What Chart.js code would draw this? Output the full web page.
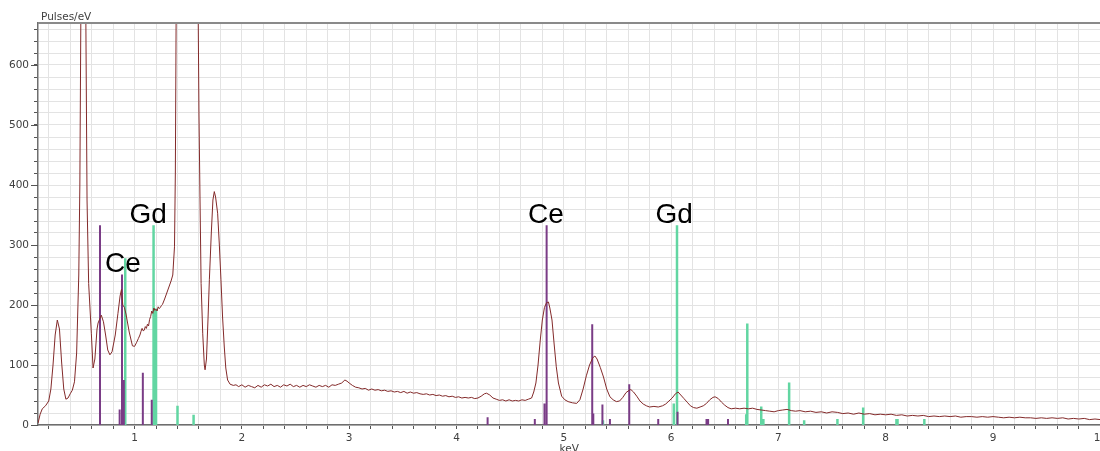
<!DOCTYPE html>
<html>
<head>
<meta charset="utf-8">
<title>EDS spectrum</title>
<script src="https://cdn.jsdelivr.net/npm/chart.js@4/dist/chart.umd.min.js"></script>
<style>
  html, body { margin: 0; padding: 0; background: #fff; overflow: hidden; }
  #wrap { width: 1110px; height: 451px; }
</style>
</head>
<body>
<div id="wrap"><canvas id="spectrum" width="1110" height="451"></canvas></div>
<script>
// measured spectrum, keV / pulses per eV
var energyKeV = [
  0.10, 0.12, 0.14, 0.17, 0.20, 0.22, 0.24, 0.26, 0.28, 0.30, 0.32, 0.34, 0.36, 0.38, 0.40, 0.42, 0.44, 0.46,
  0.48, 0.49, 0.50, 0.525, 0.545, 0.557, 0.572, 0.597, 0.613, 0.63, 0.65, 0.66, 0.69, 0.71, 0.73, 0.75, 0.77,
  0.79, 0.82, 0.845, 0.865, 0.878, 0.89, 0.905, 0.92, 0.95, 0.98, 1.00, 1.02, 1.035, 1.05, 1.06, 1.07, 1.08,
  1.09, 1.10, 1.11, 1.12, 1.13, 1.14, 1.15, 1.16, 1.17, 1.18, 1.19, 1.20, 1.21, 1.22, 1.23, 1.24, 1.25, 1.26,
  1.28, 1.30, 1.32, 1.34, 1.356, 1.372, 1.38, 1.387, 1.40, 1.43,
  1.49, 1.55, 1.59, 1.60, 1.61, 1.62, 1.635, 1.65, 1.657, 1.67, 1.685, 1.697, 1.715, 1.73, 1.743, 1.755,
  1.774, 1.79, 1.805, 1.82, 1.836, 1.85, 1.867, 1.89, 1.92, 1.945, 1.97, 2.00, 2.03, 2.06, 2.09, 2.12, 2.15,
  2.18, 2.21, 2.24, 2.27, 2.30, 2.33, 2.36, 2.39, 2.42, 2.45, 2.48, 2.51, 2.54, 2.57, 2.60, 2.63, 2.66, 2.69,
  2.72, 2.75, 2.78, 2.81, 2.84, 2.87, 2.90, 2.93, 2.96, 2.98, 3.00, 3.03, 3.06, 3.09, 3.12, 3.15, 3.18, 3.21,
  3.24, 3.27, 3.30, 3.33, 3.36, 3.39, 3.42, 3.45, 3.48, 3.51, 3.54, 3.57, 3.60, 3.63, 3.66, 3.69, 3.72, 3.75,
  3.78, 3.81, 3.84, 3.87, 3.90, 3.93, 3.96, 3.99, 4.02, 4.05, 4.08, 4.11, 4.14, 4.17, 4.20, 4.23, 4.26, 4.28,
  4.31, 4.34, 4.37, 4.40, 4.43, 4.46, 4.49, 4.52, 4.55, 4.58, 4.61, 4.64, 4.67, 4.70, 4.72, 4.74, 4.76, 4.78,
  4.80, 4.82, 4.84, 4.857, 4.87, 4.89, 4.91, 4.93, 4.95, 4.98, 5.01, 5.04, 5.08, 5.12, 5.15, 5.18, 5.21, 5.24,
  5.27, 5.29, 5.31, 5.34, 5.37, 5.40, 5.43, 5.46, 5.49, 5.52, 5.55, 5.58, 5.61, 5.625, 5.65, 5.68, 5.71, 5.74,
  5.77, 5.80, 5.84, 5.88, 5.92, 5.95, 5.98, 6.01, 6.04, 6.065, 6.09, 6.12, 6.15, 6.18, 6.21, 6.24, 6.27, 6.30,
  6.33, 6.36, 6.39, 6.41, 6.44, 6.47, 6.50, 6.53, 6.56, 6.60, 6.64, 6.68, 6.72, 6.76, 6.80, 6.84, 6.88, 6.92,
  6.96, 7.00, 7.04, 7.08, 7.12, 7.16, 7.20, 7.25, 7.30, 7.35, 7.40, 7.45, 7.50, 7.55, 7.60, 7.65, 7.70, 7.75,
  7.80, 7.85, 7.90, 7.95, 8.00, 8.05, 8.10, 8.15, 8.20, 8.25, 8.30, 8.35, 8.40, 8.45, 8.50, 8.55, 8.60, 8.65,
  8.70, 8.75, 8.80, 8.85, 8.90, 8.95, 9.00, 9.05, 9.10, 9.15, 9.20, 9.25, 9.30, 9.35, 9.40, 9.45, 9.50, 9.55,
  9.60, 9.65, 9.70, 9.75, 9.80, 9.85, 9.90, 9.95, 10.00
];
var pulses = [
  3, 18, 27, 32, 40, 60, 100, 150, 175, 160, 105, 60, 43, 45, 52, 58, 72, 120,
  250, 400, 700, 1500, 700, 375, 236, 153, 95, 110, 160, 170, 183, 172, 150, 125, 117,
  122, 150, 186, 215, 226, 200, 196, 185, 155, 132, 131, 138, 144, 150, 156, 161, 157,
  158, 164, 161, 168, 165, 176, 181, 190, 186, 195, 191, 193, 190, 197, 194, 196, 199, 201,
  210, 220, 230, 240, 250, 297, 420, 670, 1100, 2000,
  3500, 2000, 750, 520, 375, 236, 153, 100, 92, 110, 180, 242, 320, 375, 389, 380,
  353, 300, 242, 180, 130, 95, 75, 68, 66, 67, 64, 67, 63, 66, 64, 62, 66,
  63, 67, 65, 68, 64, 66, 63, 67, 65, 68, 64, 66, 63, 66, 64, 67, 65, 63,
  66, 64, 66, 63, 67, 66, 68, 70, 75, 73, 70, 66, 63, 62, 60, 61, 58, 60,
  58, 59, 57, 58, 56, 57, 55, 56, 54, 56, 53, 55, 53, 54, 52, 51, 52, 50,
  51, 49, 50, 48, 49, 47, 48, 46, 47, 45, 46, 45, 46, 44, 45, 48, 52, 53,
  50, 45, 43, 41, 42, 40, 42, 40, 41, 40, 42, 41, 43, 45, 55, 70, 100, 140,
  175, 196, 204, 205, 195, 175, 135, 97, 70, 48, 42, 39, 37, 36, 42, 60, 82, 100,
  112, 115, 110, 96, 80, 60, 47, 42, 39, 40, 46, 54, 58, 59, 55, 48, 40, 35,
  32, 30, 31, 30, 32, 35, 40, 45, 52, 55, 50, 44, 38, 32, 29, 28, 30, 32,
  36, 42, 46, 47, 44, 38, 33, 29, 27, 28, 27, 28, 27, 28, 26, 25, 24, 23,
  22, 24, 25, 26, 24, 23, 24, 22, 23, 21, 22, 20, 22, 21, 19, 20, 18, 20,
  18, 19, 17, 18, 17, 18, 16, 17, 15, 16, 15, 16, 14, 15, 14, 15, 14, 15,
  13, 14, 14, 13, 14, 13, 14, 13, 12, 13, 12, 13, 12, 12, 11, 12, 11, 12,
  11, 12, 10, 11, 10, 11, 9, 10, 9
];

// line markers (energy keV, relative height)
var ceEnergy = [0.678, 0.861, 0.883, 0.90, 1.077, 1.16, 4.29, 4.73, 4.82, 4.84, 5.265, 5.275, 5.36, 5.43, 5.61, 5.88, 6.06, 6.33, 6.345, 6.53];
var ceHeight = [333, 26, 251, 75, 87, 42, 13, 10, 36, 333, 168, 19, 34, 10, 68, 10, 22, 10, 10, 10];
var gdEnergy = [0.913, 1.177, 1.20, 1.40, 1.55, 5.365, 6.025, 6.055, 6.70, 6.71, 6.84, 6.86, 7.10, 7.24, 7.55, 7.79, 8.10, 8.11, 8.36];
var gdHeight = [278, 333, 194, 32, 17, 8, 36, 333, 18, 169, 31, 10, 71, 8, 10, 29, 10, 10, 10];

// element labels: text, centre keV, baseline value
var labelText = ['Ce', 'Gd', 'Ce', 'Gd'];
var labelKeV = [0.892, 1.127, 4.834, 6.028];
var labelY = [255, 337, 337, 337];

var xMin = 0.1, xMax = 10, yMax = 670;

function sticks(energies, heights) {
    var pts = [];
    energies.forEach(function(e, i) {
        pts.push({x: e, y: 0}, {x: e, y: heights[i]}, {x: e, y: null});
    });
    return pts;
}

var spectrumPts = energyKeV.map(function(e, i) {
    return {x: e, y: pulses[i]};
});

function isWhole(v) {
    return Math.abs(v - Math.round(v)) < 1e-6;
}

// title, axis caption, long y ticks, top frame and element labels
var decorations = {
    id: 'decorations',
    afterDatasetsDraw: function(chart) {
        var ctx = chart.ctx;
        var xs = chart.scales.x, ys = chart.scales.y;
        ctx.save();
        ctx.fillStyle = '#000';
        ctx.font = '28px "Liberation Sans", Arial, sans-serif';
        ctx.textAlign = 'center';
        ctx.textBaseline = 'alphabetic';
        labelText.forEach(function(t, i) {
            ctx.fillText(t, xs.getPixelForValue(labelKeV[i]), ys.getPixelForValue(labelY[i]));
        });
        ctx.restore();
    },
    afterDraw: function(chart) {
        var ctx = chart.ctx;
        var area = chart.chartArea;
        var ys = chart.scales.y;
        ctx.save();
        ctx.strokeStyle = '#8a8a8a';
        ctx.lineWidth = 2;
        ctx.beginPath();
        ctx.moveTo(area.left, area.top);
        ctx.lineTo(area.right + 10, area.top);
        ctx.stroke();

        ctx.strokeStyle = '#555';
        ctx.lineWidth = 1;
        for (var v = 0; v <= 600; v += 100) {
            var py = Math.round(ys.getPixelForValue(v)) + 0.5;
            ctx.beginPath();
            ctx.moveTo(area.left - 7, py);
            ctx.lineTo(area.left, py);
            ctx.stroke();
        }

        ctx.fillStyle = '#404040';
        ctx.font = '10.5px "DejaVu Sans", sans-serif';
        ctx.textAlign = 'left';
        ctx.textBaseline = 'alphabetic';
        ctx.fillText('Pulses/eV', 41, 20);

        ctx.textAlign = 'center';
        ctx.textBaseline = 'top';
        ctx.fillText('keV', (area.left + area.right) / 2, 444);
        ctx.restore();
    }
};

var ctx = document.getElementById('spectrum').getContext('2d');
new Chart(ctx, {
    type: 'line',
    data: {
        datasets: [{
            label: 'spectrum',
            data: spectrumPts,
            borderColor: '#832a2a',
            borderWidth: 1,
            pointRadius: 0,
            tension: 0,
            fill: false
        }, {
            label: 'Ce',
            data: sticks(ceEnergy, ceHeight),
            borderColor: '#7a3c86',
            borderWidth: 2,
            pointRadius: 0,
            spanGaps: false,
            fill: false
        }, {
            label: 'Gd',
            data: sticks(gdEnergy, gdHeight),
            borderColor: '#62d6a2',
            borderWidth: 2.5,
            pointRadius: 0,
            spanGaps: false,
            fill: false
        }]
    },
    options: {
        responsive: false,
        devicePixelRatio: 1,
        animation: false,
        events: [],
        layout: {
            padding: {top: 23, right: 7, bottom: 0, left: 0}
        },
        plugins: {
            legend: {display: false},
            tooltip: {enabled: false},
            title: {display: false}
        },
        scales: {
            x: {
                type: 'linear',
                min: xMin,
                max: xMax,
                afterFit: function(scale) { scale.height = 26; },
                border: {color: '#6e6e6e', width: 1.5},
                grid: {color: '#e3e3e3', tickColor: '#555', tickLength: 4, drawTicks: true},
                ticks: {
                    stepSize: 0.2,
                    includeBounds: false,
                    autoSkip: false,
                    maxRotation: 0,
                    padding: 3,
                    color: '#404040',
                    font: {family: 'DejaVu Sans', size: 10.5},
                    callback: function(v) { return isWhole(v) ? String(Math.round(v)) : ''; }
                }
            },
            y: {
                type: 'linear',
                min: 0,
                max: yMax,
                afterFit: function(scale) { scale.width = 38; },
                border: {color: '#6e6e6e', width: 1.5},
                grid: {color: '#e3e3e3', tickColor: '#555', tickLength: 4, drawTicks: true},
                ticks: {
                    stepSize: 20,
                    includeBounds: false,
                    autoSkip: false,
                    padding: 5,
                    color: '#404040',
                    font: {family: 'DejaVu Sans', size: 10.5},
                    callback: function(v) { return v % 100 === 0 ? String(v) : ''; }
                }
            }
        }
    },
    plugins: [decorations]
});
</script>
</body>
</html>
